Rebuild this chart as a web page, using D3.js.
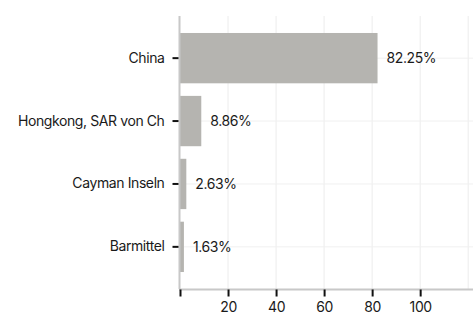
<!DOCTYPE html>
<html lang="de">
<head>
<meta charset="UTF-8">
<title>Länderverteilung</title>
<script src="https://d3js.org/d3.v7.min.js"></script>
<style>
    body { margin: 0; background: #fff; }
    svg text { font-family: Inter, "Noto Sans", sans-serif; fill: #1a1a1a; letter-spacing: -0.4px; }
</style>
</head>
<body>
<div id="chart"></div>
<script>
    const categories = ["China", "Hongkong, SAR von Ch", "Cayman Inseln", "Barmittel"];
    const values = [82.25, 8.86, 2.63, 1.63];
    const xTicks = [0, 20, 40, 60, 80, 100, 120];

    const width = 473, height = 317;
    const margin = { top: 16, right: 0, bottom: 28, left: 180 };

    const svg = d3.select("#chart").append("svg")
        .attr("width", width)
        .attr("height", height);

    const x = d3.scaleLinear()
        .domain([0, 122])
        .range([margin.left, width - margin.right]);

    const y = d3.scaleBand()
        .domain(categories)
        .range([margin.top, height - margin.bottom])
        .paddingInner(0.2)
        .paddingOuter(0.27);

    // grid
    svg.append("g")
        .selectAll("line")
        .data(xTicks.slice(1))
        .join("line")
        .attr("x1", d => x(d)).attr("x2", d => x(d))
        .attr("y1", margin.top).attr("y2", height - margin.bottom)
        .attr("stroke", "#ececec");

    svg.append("g")
        .selectAll("line")
        .data(categories)
        .join("line")
        .attr("x1", margin.left).attr("x2", width)
        .attr("y1", d => y(d) + y.bandwidth() / 2)
        .attr("y2", d => y(d) + y.bandwidth() / 2)
        .attr("stroke", "#f0f0f0");

    // bars
    svg.append("g")
        .selectAll("rect")
        .data(values)
        .join("rect")
        .attr("x", x(0))
        .attr("y", (d, i) => y(categories[i]))
        .attr("width", d => x(d) - x(0))
        .attr("height", y.bandwidth())
        .attr("fill", "#b5b4b0");

    // value labels
    svg.append("g")
        .selectAll("text")
        .data(values)
        .join("text")
        .attr("x", d => x(d) + 9)
        .attr("y", (d, i) => y(categories[i]) + y.bandwidth() / 2)
        .attr("dy", "0.35em")
        .attr("font-size", 14)
        .text(d => d.toFixed(2) + "%");

    // y axis
    const yAxis = svg.append("g")
        .attr("transform", `translate(${margin.left - 0.5},0)`)
        .call(d3.axisLeft(y).tickSize(6).tickPadding(9));
    yAxis.select(".domain").attr("stroke", "#c8c8c8").attr("stroke-width", 2)
        .attr("d", `M0,${margin.top}V${height - margin.bottom}`);
    yAxis.selectAll(".tick line").attr("stroke", "#111").attr("stroke-width", 2).attr("x2", -7).attr("x1", -1);
    yAxis.selectAll(".tick text").attr("font-size", 14).attr("fill", "#1a1a1a");

    // x axis
    const xAxis = svg.append("g")
        .attr("transform", `translate(0,${height - margin.bottom + 0.5})`)
        .call(d3.axisBottom(x).tickValues(xTicks.slice(0, 6)).tickSize(7).tickPadding(6)
            .tickFormat(d => d === 0 ? "" : d));
    xAxis.select(".domain").attr("stroke", "#c8c8c8").attr("stroke-width", 2)
        .attr("d", `M${margin.left - 1},0H${width}`);
    xAxis.selectAll(".tick line").attr("stroke", "#111").attr("stroke-width", 2);
    xAxis.selectAll(".tick text").attr("font-size", 14).attr("fill", "#1a1a1a");
</script>
</body>
</html>
